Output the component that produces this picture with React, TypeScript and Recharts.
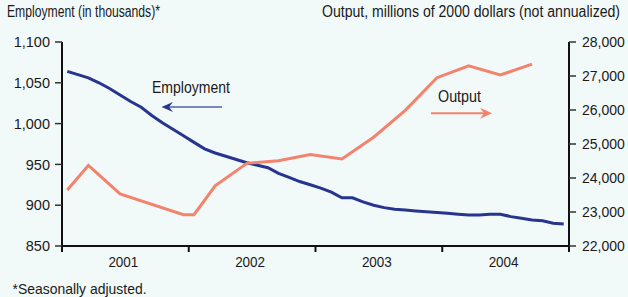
import React from 'react';
import { LineChart, Line, XAxis, YAxis } from 'recharts';

// monthly employment, Jan 2001 - Dec 2004 (thousands)
const employment: number[] = [
  1064, 1060, 1056, 1050, 1043, 1035, 1027, 1020, 1010, 1001, 993, 985,
  977, 969, 964, 960, 956, 952, 949, 946, 939, 934, 929, 925,
  921, 916, 909, 909, 904, 900, 897, 895, 894, 893, 892, 891,
  890, 889, 888, 888, 889, 889, 886, 884, 882, 881, 878, 877,
];

// output (millions of 2000 dollars), plotted on the same monthly grid
const output: (number | null)[] = [
  23650, null, 24370, null, null, 23530, null, null, null, null, null, 22920,
  22920, null, 23770, null, null, 24430, null, null, 24510, null, null, 24690,
  null, null, 24560, null, null, 25200, null, null, 25990, null, null, 26950,
  null, null, 27300, null, null, 27030, null, null, 27350, null, null, null,
];

const years = ['2001', '2002', '2003', '2004'];
const leftTicks = [850, 900, 950, 1000, 1050, 1100];
const rightTicks = [22000, 23000, 24000, 25000, 26000, 27000, 28000];
const xTicks = [-0.5, 5.5, 11.5, 17.5, 23.5, 29.5, 35.5, 41.5, 47.5];

const data = employment.map((e, i) => ({ m: i, employment: e, output: output[i] }));

const FONT = '"Liberation Sans", Arial, sans-serif';
const BG = '#F2F9F9';
const NAVY = '#27358F';
const SALMON = '#F4836D';
const INK = '#1a1a1a';

const fmt = (v: number) => v.toLocaleString('en-US');

const YearTick = (props: any) => {
  const { x, y, payload } = props;
  const v = payload.value;
  if ((v + 0.5) % 12 === 0) {
    return <line x1={x} y1={y} x2={x} y2={y + 6} stroke="#111" strokeWidth={2} />;
  }
  const idx = Math.round((v - 5.5) / 12);
  return (
    <text x={x - 2} y={y + 21} textAnchor="middle" fontSize={15} fontFamily={FONT} fill={INK}
      textLength={30} lengthAdjust="spacingAndGlyphs">
      {years[idx]}
    </text>
  );
};

export default function App() {
  return (
    <div style={{ position: 'relative', width: 628, height: 297, background: BG, overflow: 'hidden', fontFamily: FONT }}>
      <style>{'body{margin:0}'}</style>
      <LineChart width={628} height={297} data={data} margin={{ top: 42, right: 0, bottom: 21, left: 0 }}>
        <XAxis
          dataKey="m"
          type="number"
          domain={[-0.5, 47.5]}
          ticks={xTicks}
          interval={0}
          tickLine={false}
          tickSize={0}
          tickMargin={0}
          tick={<YearTick />}
          height={30}
          axisLine={{ stroke: '#111', strokeWidth: 2 }}
        />
        <YAxis
          yAxisId="left"
          domain={[850, 1100]}
          ticks={leftTicks}
          interval={0}
          width={62}
          tickSize={7}
          tickMargin={5}
          tickFormatter={fmt}
          tick={{ fill: INK, fontSize: 14.5, fontFamily: FONT }}
          tickLine={{ stroke: '#333', strokeWidth: 1.5 }}
          axisLine={{ stroke: '#111', strokeWidth: 2 }}
        />
        <YAxis
          yAxisId="right"
          orientation="right"
          domain={[22000, 28000]}
          ticks={rightTicks}
          interval={0}
          width={59}
          tickSize={7}
          tickMargin={6}
          tickFormatter={fmt}
          tick={{ fill: INK, fontSize: 14, fontFamily: FONT }}
          tickLine={{ stroke: '#333', strokeWidth: 1.5 }}
          axisLine={{ stroke: '#111', strokeWidth: 2 }}
        />
        <Line
          yAxisId="left"
          dataKey="employment"
          stroke={NAVY}
          strokeWidth={3}
          dot={false}
          isAnimationActive={false}
        />
        <Line
          yAxisId="right"
          dataKey="output"
          stroke={SALMON}
          strokeWidth={3}
          dot={false}
          connectNulls
          isAnimationActive={false}
        />
      </LineChart>
      <svg width={628} height={297} style={{ position: 'absolute', left: 0, top: 0, pointerEvents: 'none' }}>
        <g fontFamily={FONT} fill={INK}>
          <text x={7} y={17} fontSize={16} textLength={153} lengthAdjust="spacingAndGlyphs">
            Employment (in thousands)*
          </text>
          <text x={620} y={17} fontSize={16} textAnchor="end" textLength={298} lengthAdjust="spacingAndGlyphs">
            Output, millions of 2000 dollars (not annualized)
          </text>
          <text x={152} y={93} fontSize={17} textLength={78} lengthAdjust="spacingAndGlyphs">
            Employment
          </text>
          <text x={438} y={101.5} fontSize={17} textLength={43} lengthAdjust="spacingAndGlyphs">
            Output
          </text>
          <text x={12.5} y={294} fontSize={15} textLength={134} lengthAdjust="spacingAndGlyphs">
            *Seasonally adjusted.
          </text>
        </g>
        <line x1={168} y1={107} x2={222} y2={107} stroke="#7A86C6" strokeWidth={2} />
        <path d="M161.5,107 L173,102 L169,107 L173,112 Z" fill={NAVY} />
        <line x1={431} y1={113.3} x2={485} y2={113.3} stroke={SALMON} strokeWidth={2} />
        <path d="M492,113.3 L480,107.8 L484,113.3 L480,118.8 Z" fill={SALMON} />
      </svg>
    </div>
  );
}
